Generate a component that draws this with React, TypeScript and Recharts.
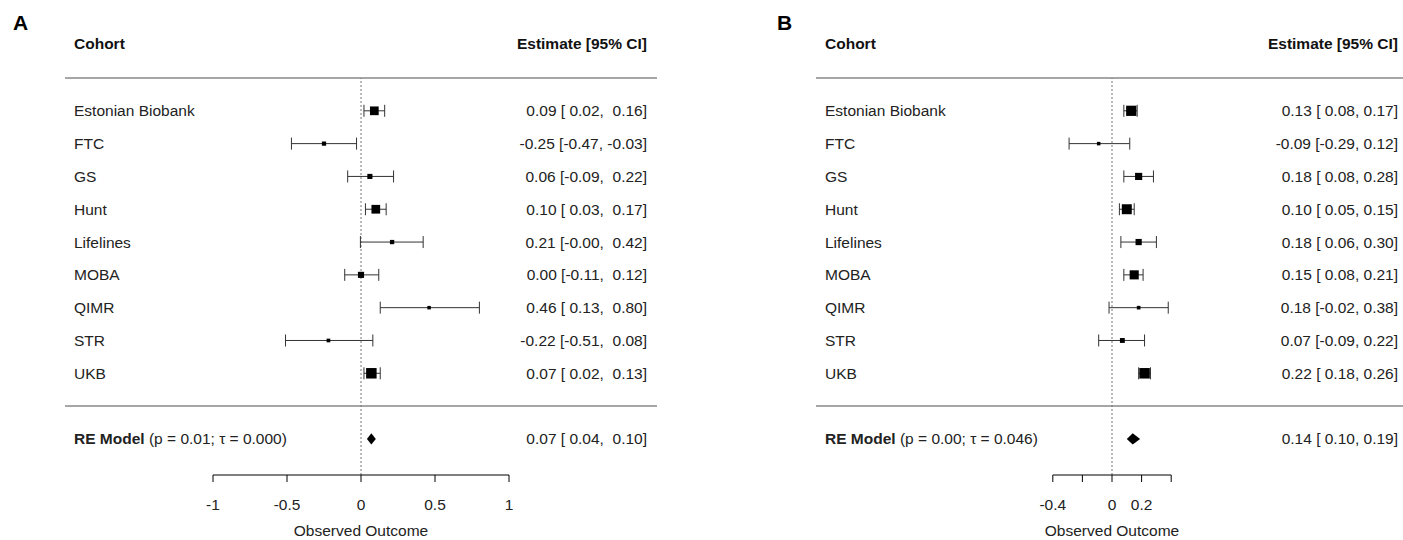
import { ComposedChart, Scatter, ErrorBar, XAxis, YAxis, ReferenceLine, ReferenceArea } from 'recharts'

const COHORTS = ['Estonian Biobank', 'FTC', 'GS', 'Hunt', 'Lifelines', 'MOBA', 'QIMR', 'STR', 'UKB']

// panel A
const A_EST = [0.09, -0.25, 0.06, 0.1, 0.21, 0.0, 0.46, -0.22, 0.07]
const A_LO = [0.02, -0.47, -0.09, 0.03, -0.004, -0.11, 0.13, -0.51, 0.02]
const A_HI = [0.16, -0.03, 0.22, 0.17, 0.42, 0.12, 0.8, 0.08, 0.13]
const A_RE = [0.07, 0.04, 0.1] // estimate, lower, upper
const A_P = '0.01'
const A_TAU = 0.0
const A_TICKS = [-1, -0.5, 0, 0.5, 1]
const A_TICK_LABELS = [-1, -0.5, 0, 0.5, 1]

// panel B
const B_EST = [0.13, -0.09, 0.18, 0.1, 0.18, 0.15, 0.18, 0.07, 0.22]
const B_LO = [0.08, -0.29, 0.08, 0.05, 0.06, 0.08, -0.02, -0.09, 0.18]
const B_HI = [0.17, 0.12, 0.28, 0.15, 0.3, 0.21, 0.38, 0.22, 0.26]
const B_RE = [0.14, 0.1, 0.19]
const B_P = '0.00'
const B_TAU = 0.046
const B_TICKS = [-0.4, -0.2, 0, 0.2, 0.4]
const B_TICK_LABELS = [-0.4, 0, 0.2]

const FONT = '"Liberation Sans", Arial, Helvetica, sans-serif'
const FS = 15.5
const TXT = '#222'
const W = 700
const H = 540
const M = { top: 78, right: 43, bottom: 0, left: 65 }
const PLOT_W = W - M.left - M.right
const NAME_X = M.left + 9
const CI_X = M.left + PLOT_W - 10
const Y_MIN = -2.1
const SQ = 7
const DIAMOND_HALF = 0.17

const fmt = (v: number) => v.toFixed(2)
// non-breaking space keeps the column padding R uses for negative numbers
const pad = (s: string, neg: boolean) => (neg && !s.startsWith('-') ? '\u00a0' + s : s)

function RowText({ y, name, ci }: { y: number; name: React.ReactNode; ci: string }) {
  return (
    <g>
      <text x={NAME_X} y={y + 5.5} fontSize={FS} fill={TXT} textAnchor="start" fontFamily={FONT} xmlSpace="preserve">
        {name}
      </text>
      <text x={CI_X} y={y + 5.5} fontSize={FS} fill={TXT} textAnchor="end" fontFamily={FONT} xmlSpace="preserve">
        {ci}
      </text>
    </g>
  )
}

function ForestPanel({ left, letter, letterX, est, lo, hi, re, p, tau, ticks, tickLabels }: any) {
  const k = est.length
  const loNeg = [...lo, re[1]].some((v: number) => v < 0)
  const hiNeg = [...hi, re[2]].some((v: number) => v < 0)
  const ciText = (e: number, l: number, h: number) => `${fmt(e)} [${pad(fmt(l), loNeg)}, ${pad(fmt(h), hiNeg)}]`

  // RE-model weights -> square sizes (as metafor does)
  const sw = lo.map((l: number, i: number) => {
    const se = (hi[i] - l) / 3.92
    return Math.sqrt(1 / (se * se + tau * tau))
  })
  const mn = Math.min(...sw)
  const mx = Math.max(...sw)

  const studies = est.map((e: number, i: number) => ({
    row: k - i,
    est: e,
    err: [e - lo[i], hi[i] - e],
    size: SQ * ((sw[i] - mn) / (mx - mn) + 0.5),
    name: COHORTS[i],
    text: ciText(e, lo[i], hi[i]),
  }))

  const xTick = (props: any) => {
    const { x, y, payload } = props
    if (!tickLabels.includes(payload.value)) return <g />
    return (
      <text x={x} y={y + 26} fontSize={FS} fill={TXT} textAnchor="middle" fontFamily={FONT}>
        {String(payload.value)}
      </text>
    )
  }

  const square = (props: any) => {
    const d = props.payload
    const s = d.size
    return (
      <g>
        <rect x={props.cx - s / 2} y={props.cy - s / 2} width={s} height={s} fill="#000" />
        <RowText y={props.cy} name={d.name} ci={d.text} />
      </g>
    )
  }

  const diamond = (props: any) => {
    const { x, y, width, height } = props
    const tip = x + (width * (re[0] - re[1])) / (re[2] - re[1])
    const mid = y + height / 2
    return (
      <g>
        <polygon points={`${x},${mid} ${tip},${y} ${x + width},${mid} ${tip},${y + height}`} fill="#000" />
        <RowText
          y={mid}
          name={
            <>
              <tspan fontWeight="bold">RE Model</tspan>
              <tspan>{`\u00a0(p = ${p}; \u03c4 = ${tau.toFixed(3)})`}</tspan>
            </>
          }
          ci={ciText(re[0], re[1], re[2])}
        />
      </g>
    )
  }

  const head = { position: 'absolute' as const, top: 36.4, fontSize: FS, lineHeight: `${FS}px`, fontWeight: 'bold' as const, color: '#111', whiteSpace: 'nowrap' as const }

  return (
    <div style={{ position: 'absolute', left, top: 0, width: W, height: H, fontFamily: FONT }}>
      <div style={{ position: 'absolute', left: letterX, top: 12.2, fontSize: 21, lineHeight: '21px', fontWeight: 'bold', color: '#000' }}>{letter}</div>
      <div style={{ ...head, left: NAME_X }}>Cohort</div>
      <div style={{ ...head, right: W - CI_X }}>Estimate [95% CI]</div>
      <ComposedChart width={W} height={H} margin={M}>
        <XAxis
          type="number"
          dataKey="est"
          domain={[-2, 2]}
          ticks={ticks}
          interval={0}
          axisLine={false}
          tickSize={7}
          tickLine={{ stroke: '#000' }}
          height={65}
          tick={xTick}
          label={{ value: 'Observed Outcome', position: 'insideBottom', offset: 4, fill: TXT, fontSize: FS, fontFamily: FONT }}
        />
        <YAxis type="number" dataKey="row" domain={[Y_MIN, k + 1]} hide />
        <ReferenceLine y={k + 1} stroke="#888" strokeWidth={1.5} />
        <ReferenceLine y={0} stroke="#888" strokeWidth={1.5} />
        <ReferenceLine x={0} stroke="#777" strokeDasharray="2 2" />
        <ReferenceLine
          segment={[
            { x: ticks[0], y: Y_MIN },
            { x: ticks[ticks.length - 1], y: Y_MIN },
          ]}
          stroke="#000"
        />
        <ReferenceArea x1={re[1]} x2={re[2]} y1={-1 - DIAMOND_HALF} y2={-1 + DIAMOND_HALF} shape={diamond} />
        <Scatter data={studies} isAnimationActive={false} shape={square}>
          <ErrorBar dataKey="err" direction="x" width={6} stroke="#333" strokeWidth={1} />
        </Scatter>
      </ComposedChart>
    </div>
  )
}

export default function App() {
  return (
    <div style={{ position: 'absolute', left: 0, top: 0, width: 1403, height: 540, overflow: 'hidden', background: '#fff' }}>
      <ForestPanel left={0} letter="A" letterX={13} est={A_EST} lo={A_LO} hi={A_HI} re={A_RE} p={A_P} tau={A_TAU} ticks={A_TICKS} tickLabels={A_TICK_LABELS} />
      <ForestPanel left={751} letter="B" letterX={26} est={B_EST} lo={B_LO} hi={B_HI} re={B_RE} p={B_P} tau={B_TAU} ticks={B_TICKS} tickLabels={B_TICK_LABELS} />
    </div>
  )
}
